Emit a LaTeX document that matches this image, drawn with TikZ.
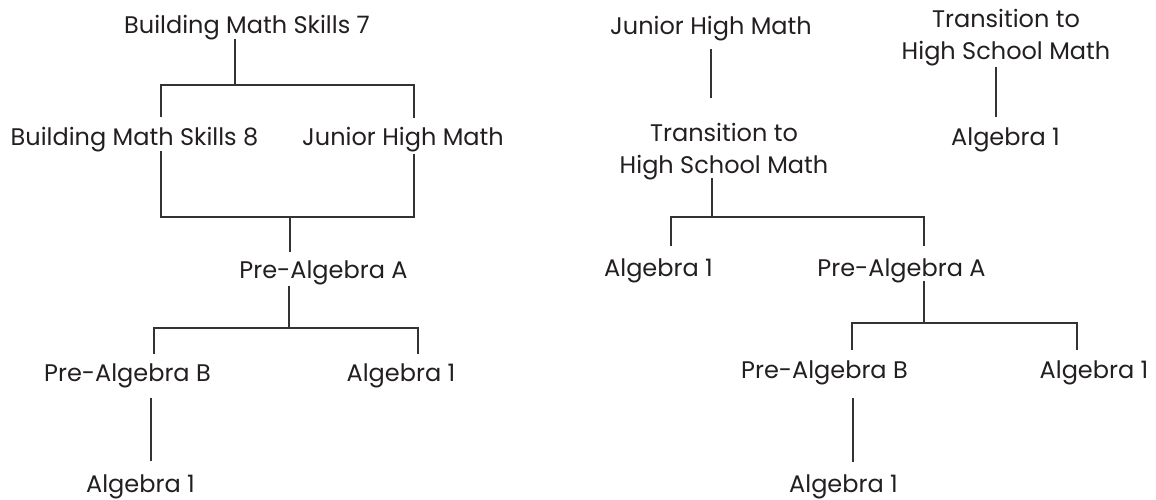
\documentclass[tikz,border=0pt]{standalone}
\usepackage{fontspec}
\setmainfont{Poppins}
\definecolor{ink}{HTML}{231F20}
\definecolor{rule}{HTML}{333333}
\begin{document}
\begin{tikzpicture}[x=1pt,y=-1pt,
  lbl/.style={anchor=base,inner sep=0pt,text=ink,align=center,
    font=\fontsize{24}{31.5}\selectfont},
  conn/.style={draw=rule,line width=1.2pt}]
\useasboundingbox (0,0) rectangle (1156,499);
% ---------- left tree ----------
\node[lbl] (bms7) at (247,33) {Building Math Skills 7};
\node[lbl] (bms8) at (134.5,145) {Building Math Skills 8};
\node[lbl] (jhmL) at (403,145) {Junior High Math};
\node[lbl] (paAL) at (323.5,278) {Pre-Algebra A};
\node[lbl] (paBL) at (127.5,381) {Pre-Algebra B};
\node[lbl] (algL1) at (401,381) {Algebra 1};
\node[lbl] (algL2) at (140.5,492) {Algebra 1};
% junctions
\coordinate (a1) at (235,39);  \coordinate (a2) at (235,85);
\coordinate (b1) at (161,85);  \coordinate (b2) at (414,85);
\coordinate (b3) at (161,117); \coordinate (b4) at (414,118);
\coordinate (b5) at (161,151); \coordinate (b6) at (414,154);
\coordinate (c1) at (161,217); \coordinate (c2) at (414,217);
\coordinate (c3) at (290,217); \coordinate (c4) at (290,252);
\coordinate (d1) at (289,286); \coordinate (d2) at (289,328);
\coordinate (e1) at (154,328); \coordinate (e2) at (418,328);
\coordinate (e3) at (154,354); \coordinate (e4) at (418,354);
\coordinate (f1) at (151,398); \coordinate (f2) at (151,461);
\draw[conn] (a1) -- (a2);
\draw[conn] (b3) -- (b1) -- (b2) -- (b4);
\draw[conn] (b5) -- (c1) -- (c2) -- (b6);
\draw[conn] (c3) -- (c4);
\draw[conn] (d1) -- (d2);
\draw[conn] (e3) -- (e1) -- (e2) -- (e4);
\draw[conn] (f1) -- (f2);
% ---------- right tree ----------
\node[lbl] (jhmR) at (711,34) {Junior High Math};
\node[lbl] (trR1) at (724,173) {Transition to\\High School Math};
\node[lbl] (trR2) at (1006,59) {Transition to\\High School Math};
\node[lbl] (algR0) at (1005.5,145) {Algebra 1};
\node[lbl] (algR1) at (658.5,276) {Algebra 1};
\node[lbl] (paAR) at (901.5,276) {Pre-Algebra A};
\node[lbl] (paBR) at (824.5,378) {Pre-Algebra B};
\node[lbl] (algR2) at (1094,378) {Algebra 1};
\node[lbl] (algR3) at (843.5,492) {Algebra 1};
\coordinate (g1) at (711,49);  \coordinate (g2) at (711,98);
\coordinate (h1) at (712,178); \coordinate (h2) at (712,217);
\coordinate (i1) at (671,217); \coordinate (i2) at (924,217);
\coordinate (i3) at (671,246); \coordinate (i4) at (924,246);
\coordinate (j1) at (996,67);  \coordinate (j2) at (996,117);
\coordinate (k1) at (924,281); \coordinate (k2) at (924,323);
\coordinate (l1) at (852,323); \coordinate (l2) at (1077,323);
\coordinate (l3) at (852,350); \coordinate (l4) at (1077,350);
\coordinate (m1) at (853,398); \coordinate (m2) at (853,462);
\draw[conn] (g1) -- (g2);
\draw[conn] (h1) -- (h2);
\draw[conn] (i3) -- (i1) -- (i2) -- (i4);
\draw[conn] (j1) -- (j2);
\draw[conn] (k1) -- (k2);
\draw[conn] (l3) -- (l1) -- (l2) -- (l4);
\draw[conn] (m1) -- (m2);
\end{tikzpicture}
\end{document}
